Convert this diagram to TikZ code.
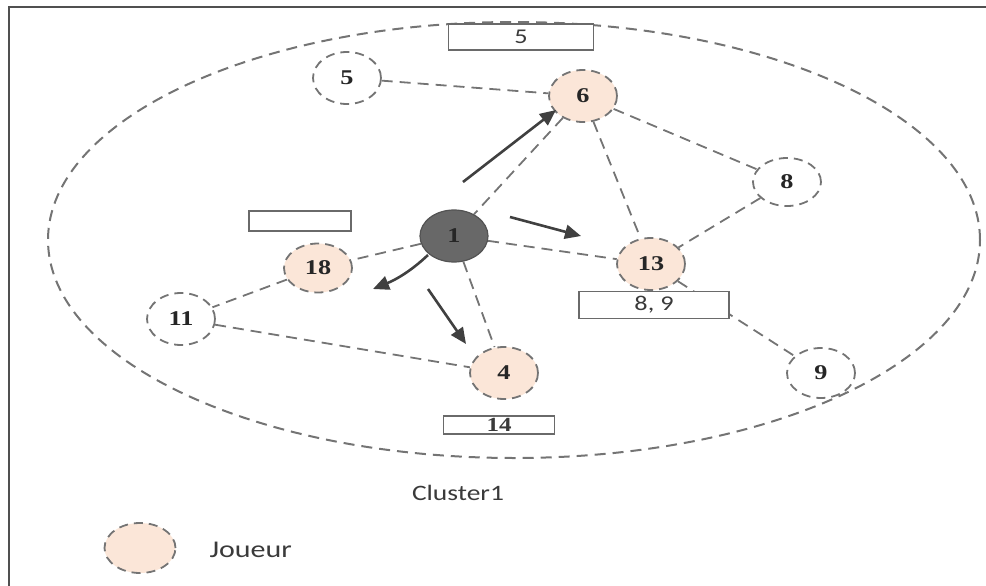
\documentclass[tikz,border=0pt]{standalone}
\usepackage{fontspec}
\setmainfont{Liberation Serif}
\newfontfamily\labelfont{Carlito}
\usetikzlibrary{arrows.meta,shapes.geometric}
\definecolor{peach}{HTML}{FBE6D8}
\definecolor{dashgray}{HTML}{747474}
\definecolor{hubgray}{HTML}{686868}
\definecolor{framegray}{HTML}{505050}
\definecolor{boxgray}{HTML}{6A6A6A}
\definecolor{textgray}{HTML}{3A3A3A}
% all lettering is set slightly widened
\newcommand\wideset[1]{\scalebox{1.25}[1]{#1}}

\begin{document}
\begin{tikzpicture}[x=1pt,y=-1pt,
  vertex/.style={ellipse, draw=dashgray, line width=1.8pt,
    dash pattern=on 9pt off 6pt, minimum width=68pt, minimum height=52pt,
    inner sep=0pt, font=\fontsize{21}{21}\selectfont\bfseries, text=black!85},
  player/.style={vertex, fill=peach},
  plain/.style={vertex, fill=white},
  hub/.style={vertex, fill=hubgray, draw=hubgray!80!black, solid, line width=1.2pt},
  link/.style={draw=dashgray, line width=1.8pt, dash pattern=on 11pt off 7pt},
  tagbox/.style={draw=boxgray, fill=white, line width=1.6pt, inner sep=0pt,
    font=\labelfont\fontsize{21}{21}\selectfont, text=textgray},
  pusharrow/.style={draw=black!75, line width=2.6pt,
    -{Triangle[length=16pt,width=14pt]}},
  caption/.style={font=\labelfont\fontsize{22}{22}\selectfont, text=textgray}
]
\useasboundingbox (0,0) rectangle (986,586);

% page frame (top and left edges)
\draw[framegray, line width=2.6pt] (9,586) -- (9,7) -- (986,7);

% cluster boundary
\draw[link, line width=2pt] (514,240) ellipse (466pt and 218pt);

% nodes
\node[plain]  (n5)  at (347,78)  {\wideset{5}};
\node[player] (n6)  at (583,96)  {\wideset{6}};
\node[plain, minimum height=48pt] (n8) at (787,182) {\wideset{8}};
\node[hub]    (n1)  at (454,236) {\wideset{1}};
\node[player, minimum height=49pt] (n18) at (318,268) {\wideset{18}};
\node[player] (n13) at (651,264) {\wideset{13}};
\node[plain]  (n11) at (181,319) {\wideset{11}};
\node[player] (n4)  at (504,373) {\wideset{4}};
\node[plain, minimum height=50pt] (n9) at (821,373) {\wideset{9}};

% relations
\draw[link] (n5) -- (n6);
\draw[link] (n6) -- (n1);
\draw[link] (n6) -- (n8);
\draw[link] (n6) -- (n13);
\draw[link] (n8) -- (n13);
\draw[link] (n1) -- (n13);
\draw[link] (n13) -- (n9);
\draw[link] (n1) -- (n18);
\draw[link] (n1) -- (n4);
\draw[link] (n18) -- (n11);
\draw[link] (n11) -- (n4);

% label boxes
\node[tagbox, minimum width=145pt, minimum height=26pt] (b5)  at (521,37)  {\wideset{5}};
\node[tagbox, minimum width=102pt, minimum height=20pt] (b0)  at (300,221) {};
\node[tagbox, minimum width=150pt, minimum height=27pt] (b89) at (654,305) {\wideset{8, 9}};
\node[tagbox, minimum width=111pt, minimum height=18pt,
      font=\fontsize{20}{20}\selectfont\bfseries] (b14) at (499,425) {\wideset{14}};

% propagation arrows from node 1
\coordinate (s6)  at (463,182);  \coordinate (t6)  at (556,110);
\coordinate (s13) at (510,217);  \coordinate (t13) at (581,236);
\coordinate (s18) at (428,255);  \coordinate (t18) at (373,289);
\coordinate (s4)  at (428,289);  \coordinate (t4)  at (466,344);
\draw[pusharrow] (s6) -- (t6);
\draw[pusharrow] (s13) -- (t13);
\draw[pusharrow] (s18) .. controls (410,272) and (395,280) .. (t18);
\draw[pusharrow] (s4) -- (t4);

% captions and legend
\node[caption] (cl) at (458,493) {\wideset{Cluster1}};
\node[player, minimum width=71pt, minimum height=50pt] (lg) at (140,548) {};
\node[caption, anchor=west, font=\labelfont\fontsize{24}{24}\selectfont] (lt) at (206,550) {\wideset{Joueur}};
\end{tikzpicture}
\end{document}
